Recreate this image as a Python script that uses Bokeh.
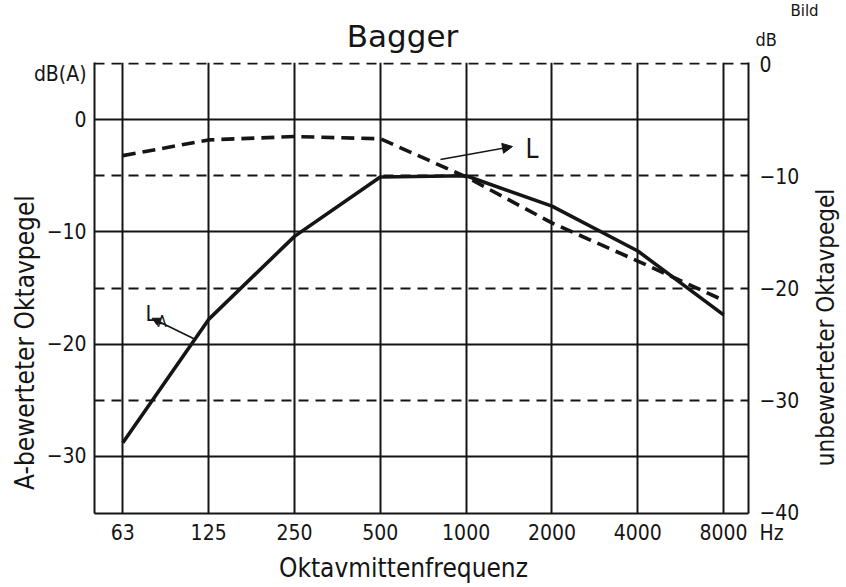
from bokeh.plotting import figure
from bokeh.models import Range1d, LinearAxis, FixedTicker, Grid, Label, Arrow, NormalHead
from bokeh.embed import file_html
from bokeh.resources import INLINE

# ---- data ----
freqs = ["63", "125", "250", "500", "1000", "2000", "4000", "8000"]
LA_dBA = [-28.8, -17.8, -10.4, -5.1, -5.0, -7.7, -11.7, -17.4]   # A-bewerteter Oktavpegel (left axis)
L_dB = [-8.2, -6.8, -6.5, -6.7, -10.1, -14.2, -17.6, -21.1]      # unbewerteter Oktavpegel (right axis)
left_ticks = [0, -10, -20, -30]
right_ticks = [0, -10, -20, -30, -40]
unit_left = "dB(A)"
unit_right = "dB"
unit_x = "Hz"

FONT = "DejaVu Sans Condensed"
INK = "#151515"
NB = "\u00a0"

x = list(range(len(freqs)))

p = figure(frame_width=654, frame_height=451,
           x_range=Range1d(-0.33, 7.29), y_range=Range1d(-35.1, 5.1),
           output_backend="svg", toolbar_location=None,
           x_axis_location=None, y_axis_location=None, title=None,
           min_border_left=94, min_border_right=94, min_border_top=62, min_border_bottom=73)
p.title_location = None
p.extra_y_ranges = {"right": Range1d(-40.1, 0.1)}
p.outline_line_color = None
p.background_fill_color = "white"
for g in p.grid:
    g.visible = False


def axis_style(ax, size="21px"):
    ax.axis_line_color = INK
    ax.axis_line_width = 2
    ax.major_tick_line_color = None
    ax.minor_tick_line_color = None
    ax.major_tick_out = 0
    ax.major_tick_in = 0
    ax.minor_tick_out = 0
    ax.major_label_text_font = FONT
    ax.major_label_text_font_size = size
    ax.major_label_text_color = INK
    ax.major_label_standoff = 11


# left axis, with the unit written as an extra tick label near the top
unit_left_pos = 4.1
left = LinearAxis(ticker=FixedTicker(ticks=left_ticks + [unit_left_pos]),
                  major_label_overrides={unit_left_pos: unit_left})
axis_style(left)
left.major_label_standoff = 8
p.add_layout(left, "left")

right = LinearAxis(y_range_name="right", ticker=FixedTicker(ticks=right_ticks))
axis_style(right)
p.add_layout(right, "right")

# bottom axis; the "Hz" unit rides along with the last label
labels = {i: f for i, f in enumerate(freqs)}
labels[len(freqs) - 1] = NB * 6 + freqs[-1] + NB * 2 + unit_x
bottom = LinearAxis(ticker=FixedTicker(ticks=x), major_label_overrides=labels)
axis_style(bottom)
bottom.major_label_standoff = 7
p.add_layout(bottom, "below")


def side_label(side, text, xx, yy, size, font=FONT, align="center", baseline="middle",
               angle=0.0, line_height=1.2):
    # text placed in a side panel (not clipped to the frame), positioned in data units
    p.add_layout(Label(x=xx, y=yy, text=text, angle=angle, text_font=font,
                       text_font_size=size, text_color=INK, text_align=align,
                       text_baseline=baseline, text_line_height=line_height), side)


side_label("above", "Bagger", 3.259, 7.42, "31px", font="DejaVu Sans",
           baseline="alphabetic", line_height=1.0)
side_label("above", "Bild", 7.779, 9.65, "15px", font="DejaVu Sans", align="left",
           baseline="alphabetic", line_height=1.0)
side_label("right", unit_right, 7.371, 7.15, "18px", align="left")
side_label("right", "unbewerteter Oktavpegel", 8.198, -18.52, "24px", angle=1.5708)
side_label("left", "A-bewerteter Oktavpegel", -1.135, -19.86, "26px", angle=1.5708)
side_label("below", "Oktavmittenfrequenz", 3.27, -39.98, "26px")

# grids: vertical solid, horizontal solid (dB(A) decades), horizontal dashed (dB decades)
p.add_layout(Grid(dimension=0, ticker=FixedTicker(ticks=x),
                  grid_line_color=INK, grid_line_width=2))
p.add_layout(Grid(dimension=1, ticker=FixedTicker(ticks=left_ticks),
                  grid_line_color=INK, grid_line_width=1.8))
p.add_layout(Grid(dimension=1, y_range_name="right", ticker=FixedTicker(ticks=right_ticks[:-1]),
                  grid_line_color=INK, grid_line_width=2, grid_line_dash="10 7"))

# curves
p.line(x, LA_dBA, line_width=3.6, line_color=INK)
p.line(x, L_dB, y_range_name="right", line_width=3.6, line_color=INK, line_dash="13 7")


def lab(text, xx, yy, size, font=FONT, align="left", baseline="alphabetic"):
    p.add_layout(Label(x=xx, y=yy, text=text, text_font=font, text_font_size=size,
                       text_color=INK, text_align=align, text_baseline=baseline))


# curve labels with arrows
lab("L", 4.692, -2.65, "26px")
p.add_layout(Arrow(end=NormalHead(size=10, fill_color=INK, line_color=INK),
                   x_start=3.701, y_start=-3.55, x_end=4.540, y_end=-2.39,
                   line_color=INK, line_width=1.6))
lab("L", 0.264, -17.27, "22px")
lab("A", 0.404, -17.99, "15px")
p.add_layout(Arrow(end=NormalHead(size=8, fill_color=INK, line_color=INK),
                   x_start=0.823, y_start=-19.5, x_end=0.34, y_end=-17.7,
                   line_color=INK, line_width=1.6))

open("out.html", "w").write(file_html(p, INLINE))
